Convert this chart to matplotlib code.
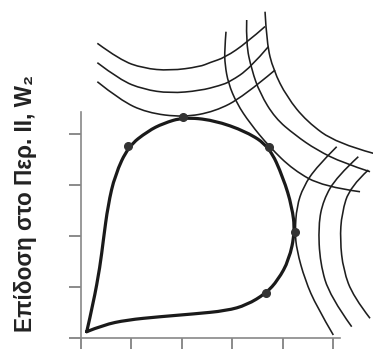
import matplotlib
matplotlib.use('Agg')
import matplotlib.pyplot as plt
from matplotlib.path import Path
from matplotlib.patches import PathPatch

# 效用可能性曲线 (粗线), 数据读自图片
frontier_x = [0.119, 0.250, 0.382, 0.448, 0.541, 0.679, 0.943, 1.333, 1.636, 2.032,
              2.626, 3.287, 3.735, 4.012, 4.184, 4.244, 4.125, 3.907, 3.669, 3.287,
              2.891, 2.230, 1.570, 0.911, 0.448, 0.119]
frontier_y = [0.118, 0.682, 1.395, 1.919, 2.607, 3.196, 3.760, 4.061, 4.212, 4.330,
              4.277, 4.047, 3.752, 3.138, 2.574, 2.083, 1.527, 1.134, 0.872, 0.642,
              0.530, 0.466, 0.413, 0.348, 0.250, 0.118]

# 切点
dot_x = [0.943, 2.032, 3.735, 4.244, 3.669]
dot_y = [3.760, 4.330, 3.752, 2.083, 0.872]

# 左上方的三条细曲线
a1_x = [0.329, 0.778, 1.240, 1.768, 2.362, 2.560, 2.857, 3.287, 3.650]
a1_y = [5.784, 5.456, 5.293, 5.246, 5.324, 5.407, 5.505, 5.796, 6.114]
a2_x = [0.329, 0.778, 1.240, 1.768, 2.362, 2.758, 2.956, 3.352, 3.715]
a2_y = [5.403, 5.063, 4.880, 4.802, 4.853, 4.955, 5.029, 5.293, 5.717]
a3_x = [0.329, 0.778, 1.307, 2.032, 2.659, 3.220, 3.848]
a3_y = [5.029, 4.670, 4.420, 4.330, 4.444, 4.735, 5.259]

# 右上方的三条细曲线
b1_x = [2.877, 2.848, 2.857, 2.923, 3.089, 3.352, 3.735, 4.210, 4.804, 5.531]
b1_y = [6.012, 5.651, 5.362, 4.998, 4.605, 4.212, 3.752, 3.295, 2.967, 2.868]
b2_x = [3.287, 3.273, 3.386, 3.550, 3.848, 4.244, 4.673, 5.200, 5.729]
b2_y = [6.242, 5.784, 5.259, 4.802, 4.316, 3.982, 3.688, 3.432, 3.261]
b3_x = [3.650, 3.683, 3.814, 4.079, 4.475, 5.069, 5.794]
b3_y = [6.405, 5.784, 5.259, 4.735, 4.248, 3.819, 3.623]

# 右方的三条细曲线
c1_x = [5.069, 4.673, 4.408, 4.277, 4.244, 4.277, 4.442, 4.673, 5.002]
c1_y = [3.752, 3.360, 2.967, 2.574, 2.083, 1.723, 1.134, 0.609, 0.053]
c2_x = [5.497, 5.069, 4.804, 4.705, 4.739, 4.937, 5.366]
c2_y = [3.556, 3.163, 2.705, 2.214, 1.462, 0.806, 0.216]
c3_x = [5.695, 5.333, 5.168, 5.135, 5.200, 5.398, 5.729]
c3_y = [3.295, 2.967, 2.444, 1.919, 1.330, 0.806, 0.381]

x_ticks = [0, 1, 2, 3, 4, 5]
y_ticks = [0, 1, 2, 3, 4]
ylabel = 'Επίδοση στο Περ. ΙΙ, W₂'


def smooth_path(xs, ys):
    # 用二次贝塞尔把读到的点连成平滑曲线
    pts = list(zip(xs, ys))
    verts = [pts[0]]
    codes = [Path.MOVETO]
    for i in range(1, len(pts) - 1):
        mid = ((pts[i][0] + pts[i + 1][0]) / 2, (pts[i][1] + pts[i + 1][1]) / 2)
        if i == len(pts) - 2:
            mid = pts[-1]
        verts += [pts[i], mid]
        codes += [Path.CURVE3, Path.CURVE3]
    return Path(verts, codes)


fig = plt.figure(figsize=(3.73, 3.49), dpi=100)
ax = fig.add_axes([0.2164, 0.0324, 0.7836, 0.9676])
ax.set_xlim(0, 5.788)
ax.set_ylim(0, 6.635)

for xs, ys in [(a1_x, a1_y), (a2_x, a2_y), (a3_x, a3_y),
               (b1_x, b1_y), (b2_x, b2_y), (b3_x, b3_y),
               (c1_x, c1_y), (c2_x, c2_y), (c3_x, c3_y)]:
    ax.add_patch(PathPatch(smooth_path(xs, ys), fill=False, lw=1.15, ec='#1e1e1e'))

ax.add_patch(PathPatch(smooth_path(frontier_x, frontier_y), fill=False, lw=2.3,
                       ec='#1a1a1a', capstyle='round', joinstyle='round'))
ax.plot(dot_x, dot_y, 'o', ms=5.5, color='#333333', zorder=5)

for side in ['top', 'right']:
    ax.spines[side].set_visible(False)
ax.spines['left'].set_bounds(0, 4.43)
ax.spines['bottom'].set_bounds(0, 5.13)
for side in ['left', 'bottom']:
    ax.spines[side].set_color('#888888')
    ax.spines[side].set_linewidth(1.2)
ax.set_xticks(x_ticks)
ax.set_yticks(y_ticks)
ax.set_xticklabels([])
ax.set_yticklabels([])
ax.tick_params(direction='out', length=8.6, width=1.2, color='#777777')
ax.patch.set_visible(False)

fig.text(0.069, 0.418, ylabel, rotation=90, ha='center', va='center',
         fontsize=16.3, fontweight='bold', color='#222222',
         family=['Liberation Sans', 'DejaVu Sans'])

fig.savefig('out.png', dpi=100)
